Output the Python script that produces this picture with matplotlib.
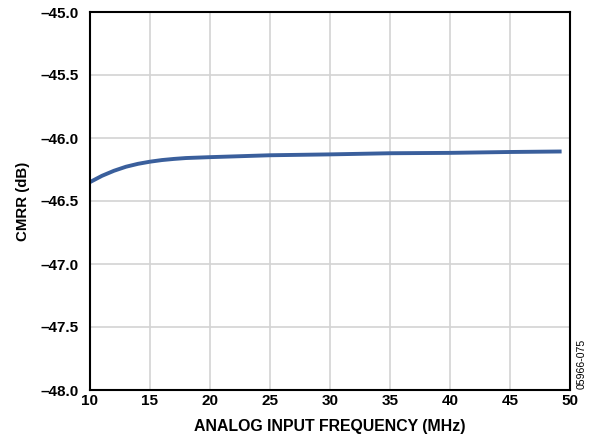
import matplotlib
matplotlib.use('Agg')
import matplotlib.pyplot as plt

# CMRR vs analog input frequency
freq = [10, 11, 12, 13, 14, 15, 16, 17, 18, 20, 22, 25, 30, 35, 40, 45, 49.3]
cmrr = [-46.35, -46.30, -46.26, -46.228, -46.205, -46.188, -46.175, -46.166, -46.159,
        -46.152, -46.146, -46.137, -46.13, -46.121, -46.118, -46.111, -46.107]

xticks = [10, 15, 20, 25, 30, 35, 40, 45, 50]
yticks = [-45.0, -45.5, -46.0, -46.5, -47.0, -47.5, -48.0]

plt.rcParams['font.family'] = ['Liberation Sans', 'DejaVu Sans']

fig = plt.figure(figsize=(5.98, 4.41), dpi=100)
ax = fig.add_axes([90 / 598, 1 - 390 / 441, 480 / 598, 378 / 441])

ax.plot(freq, cmrr, color='#3A5F9C', linewidth=2.8, solid_capstyle='butt')

ax.set_xlim(10, 50)
ax.set_ylim(-48, -45)
ax.set_xticks(xticks)
ax.set_yticks(yticks)
ax.set_xticklabels([str(t) for t in xticks], fontsize=11, fontweight='bold')
ax.set_yticklabels([f'{t:.1f}'.replace('-', '\u2013') for t in yticks], fontsize=11, fontweight='bold')
ax.tick_params(axis='x', length=0, pad=3)
ax.tick_params(axis='y', length=0, pad=8)
ax.grid(True, color='#D3D3D3', linewidth=1.2)
ax.set_axisbelow(True)
for s in ax.spines.values():
    s.set_linewidth(1.5)
    s.set_color('black')

ax.set_xlabel('ANALOG INPUT FREQUENCY (MHz)', fontsize=11.4, fontweight='bold', labelpad=8)
ax.set_ylabel('CMRR (dB)', fontsize=10.8, fontweight='bold', labelpad=8)

fig.text(582 / 598, 1 - 364 / 441, '05966-075', rotation=90, fontsize=7.6,
         ha='center', va='center')

fig.savefig('out.png', dpi=100)
